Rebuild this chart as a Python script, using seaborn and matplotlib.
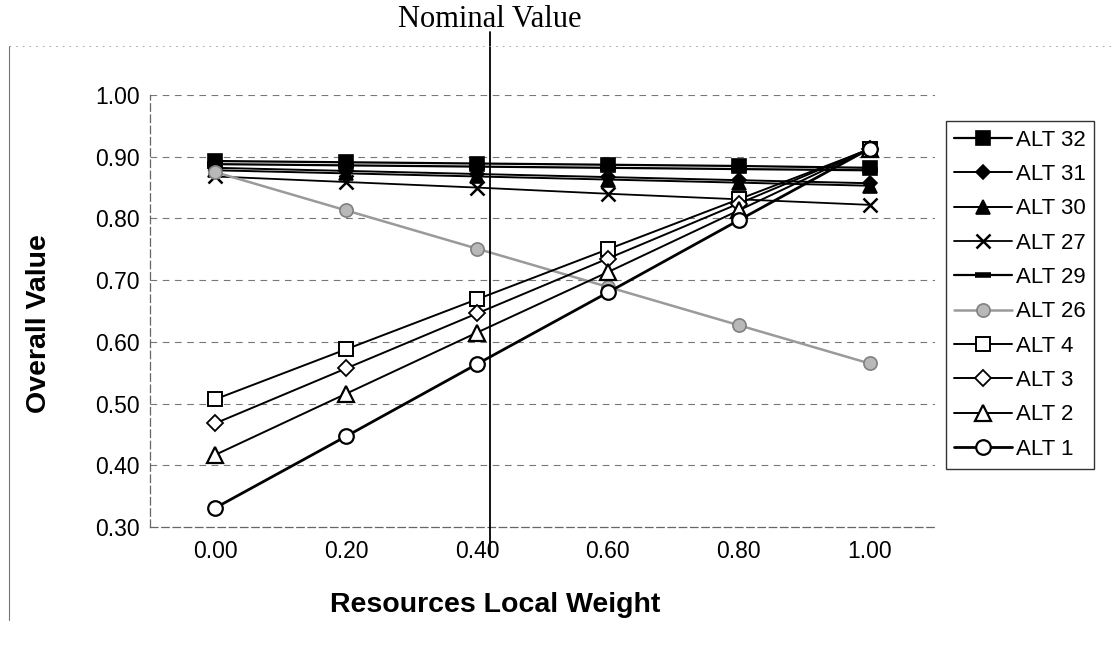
import numpy as np
import pandas as pd
import matplotlib
matplotlib.use("Agg")
import matplotlib.pyplot as plt
import seaborn as sns
from matplotlib.lines import Line2D
from matplotlib.transforms import blended_transform_factory

# ---------------- data ----------------
weights = [0.00, 0.20, 0.40, 0.60, 0.80, 1.00]
alt32 = [0.893, 0.891, 0.889, 0.887, 0.885, 0.882]
alt31 = [0.882, 0.877, 0.872, 0.867, 0.862, 0.857]
alt30 = [0.878, 0.873, 0.868, 0.863, 0.858, 0.853]
alt27 = [0.868, 0.859, 0.850, 0.840, 0.831, 0.822]
alt29 = [0.888, 0.886, 0.884, 0.882, 0.880, 0.878]
alt26 = [0.875, 0.813, 0.751, 0.689, 0.627, 0.565]
alt4 = [0.507, 0.588, 0.669, 0.750, 0.831, 0.912]
alt3 = [0.468, 0.557, 0.646, 0.735, 0.824, 0.913]
alt2 = [0.417, 0.516, 0.615, 0.713, 0.813, 0.913]
alt1 = [0.331, 0.447, 0.564, 0.680, 0.797, 0.913]
series_names = ["ALT 32", "ALT 31", "ALT 30", "ALT 27", "ALT 29",
                "ALT 26", "ALT 4", "ALT 3", "ALT 2", "ALT 1"]
series_values = [alt32, alt31, alt30, alt27, alt29, alt26, alt4, alt3, alt2, alt1]
nominal_weight = 0.42
y_ticks = [0.30, 0.40, 0.50, 0.60, 0.70, 0.80, 0.90, 1.00]

# ---------------- styles ----------------
styles = {
    "ALT 32": dict(marker="s", color="black", mfc="black", mec="black", ms=9.5, lw=1.6),
    "ALT 31": dict(marker="D", color="black", mfc="black", mec="black", ms=7.5, lw=1.4),
    "ALT 30": dict(marker="^", color="black", mfc="black", mec="black", ms=10.5, lw=1.4),
    "ALT 27": dict(marker="x", color="black", mfc="black", mec="black", ms=10, lw=1.3, mew=1.8),
    "ALT 29": dict(marker="_", color="black", mfc="black", mec="black", ms=11, lw=1.6, mew=4),
    "ALT 26": dict(marker="o", color="#9a9a9a", mfc="#b8b8b8", mec="#808080", ms=9.5, lw=1.8),
    "ALT 4": dict(marker="s", color="black", mfc="white", mec="black", ms=10.5, lw=1.4, mew=1.4),
    "ALT 3": dict(marker="D", color="black", mfc="white", mec="black", ms=8, lw=1.4, mew=1.3),
    "ALT 2": dict(marker="^", color="black", mfc="white", mec="black", ms=11.5, lw=1.4, mew=1.6),
    "ALT 1": dict(marker="o", color="black", mfc="white", mec="black", ms=10.5, lw=2.0, mew=1.6),
}

sns.set_theme(style="white")
plt.rcParams["font.family"] = ["Liberation Sans", "DejaVu Sans"]
plt.rcParams["text.color"] = "black"
plt.rcParams["axes.labelcolor"] = "black"
plt.rcParams["xtick.color"] = "black"
plt.rcParams["ytick.color"] = "black"

fig = plt.figure(figsize=(11.15, 6.53), dpi=100)
ax = fig.add_axes([0.1345, 0.193, 0.704, 0.6615])

rows = []
for name, vals in zip(series_names, series_values):
    for w, v in zip(weights, vals):
        rows.append({"weight": w, "value": v, "series": name})
df = pd.DataFrame(rows)

for name in series_names:
    st = dict(styles[name])
    sub = df[df["series"] == name]
    sns.lineplot(data=sub, x="weight", y="value", ax=ax, label=name,
                 color=st.pop("color"), marker=st.pop("marker"),
                 markerfacecolor=st.pop("mfc"), markeredgecolor=st.pop("mec"),
                 markersize=st.pop("ms"), linewidth=st.pop("lw"),
                 markeredgewidth=st.pop("mew", 1.2), zorder=3)

ax.set_xlim(-0.1, 1.1)
ax.set_ylim(0.30, 1.00)
ax.set_xticks(weights)
ax.set_xticklabels([f"{w:.2f}" for w in weights])
ax.set_xticks(np.arange(-0.1, 1.11, 0.2), minor=True)
ax.set_yticks(y_ticks)
ax.set_yticklabels([f"{t:.2f}" for t in y_ticks])
ax.tick_params(axis="both", which="both", direction="inout", length=7,
               color="#555555", width=0.8, labelsize=16.5, labelcolor="black")
ax.tick_params(axis="x", pad=6)
ax.tick_params(axis="y", pad=4)

for t in y_ticks[1:]:
    ax.axhline(t, color="#777777", lw=0.8, ls=(0, (6, 5)), zorder=1)

for s in ["top", "right"]:
    ax.spines[s].set_visible(False)
for s in ["left", "bottom"]:
    ax.spines[s].set_color("#666666")
    ax.spines[s].set_linewidth(0.9)
    ax.spines[s].set_linestyle((0, (6, 3)))

ax.set_xlabel("Resources Local Weight", fontsize=20.5, fontweight="bold")
ax.xaxis.set_label_coords(0.44, -0.15)
ax.set_ylabel("Overall Value", fontsize=20.5, fontweight="bold")
ax.yaxis.set_label_coords(-0.125, 0.47)

# nominal value reference line
ax.axvline(nominal_weight, ymin=-0.065, ymax=1.146, color="black", lw=1.3,
           clip_on=False, zorder=4)
trans = blended_transform_factory(ax.transData, fig.transFigure)
ax.text(nominal_weight, 0.992, "Nominal Value", transform=trans, ha="center",
        va="top", fontsize=22, family=["Liberation Serif", "DejaVu Serif"])

leg = ax.legend(loc="upper left", bbox_to_anchor=(0.848, 0.815),
                bbox_transform=fig.transFigure, frameon=True, fancybox=False,
                fontsize=16, handlelength=2.6, handletextpad=0.15,
                labelspacing=0.6, borderpad=0.4, borderaxespad=0)
leg.get_frame().set_edgecolor("black")
leg.get_frame().set_linewidth(1.0)

# outer chart border fragments
fig.add_artist(Line2D([0.008, 0.008], [0.05, 0.93], transform=fig.transFigure,
                      color="#777777", lw=0.8))
fig.add_artist(Line2D([0.008, 1.0], [0.93, 0.93], transform=fig.transFigure,
                      color="#999999", lw=0.6, ls=(0, (2, 6))))

fig.savefig("out.png", dpi=100)
